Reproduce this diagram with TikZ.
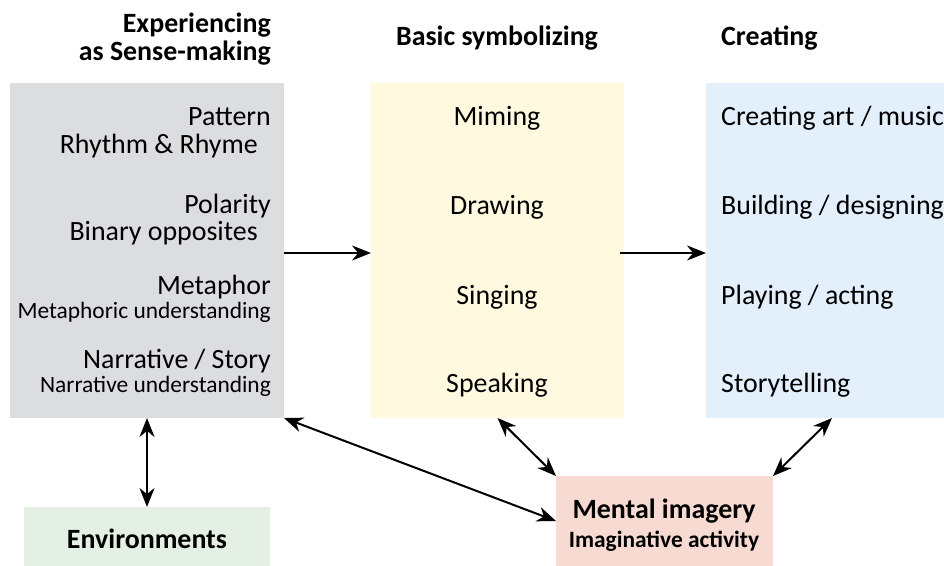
\documentclass[tikz,border=0pt]{standalone}
\usepackage{fontspec}
\setmainfont{Carlito}
\usetikzlibrary{arrows.meta,positioning}
\definecolor{sensegray}{HTML}{DCDDDF}
\definecolor{symbyellow}{HTML}{FFF9DF}
\definecolor{createblue}{HTML}{E3F0FB}
\definecolor{envgreen}{HTML}{E5F0E4}
\definecolor{imagepink}{HTML}{F7DBD2}

\begin{document}
\begin{tikzpicture}[
  x=1bp, y=-1bp,
  panel/.style={inner sep=0pt, outer sep=0pt},
  head/.style={font=\fontsize{28}{32}\selectfont\bfseries, anchor=base, inner sep=0pt},
  big/.style={font=\fontsize{28}{32}\selectfont, anchor=base, inner sep=0pt},
  small/.style={font=\fontsize{23.5}{27}\selectfont, anchor=base, inner sep=0pt},
  link/.style={line width=2bp, -{Stealth[length=19bp,width=15bp]}},
  both/.style={line width=2bp, {Stealth[length=19bp,width=15bp]}-{Stealth[length=19bp,width=15bp]}}
]
\useasboundingbox (0,0) rectangle (944,566);

% panels
\node[panel, fill=sensegray, minimum width=274bp, minimum height=335bp] (sense) at (147,250.5) {};
\node[panel, fill=symbyellow, minimum width=253bp, minimum height=335bp] (symb) at (497.5,250.5) {};
\node[panel, fill=createblue, minimum width=238bp, minimum height=335bp] (create) at (825,250.5) {};
\node[panel, fill=envgreen, minimum width=246bp, minimum height=59bp] (env) at (147,536.5) {};
\node[panel, fill=imagepink, minimum width=217bp, minimum height=90bp] (imagery) at (664.5,521) {};

% headings
\node[head, anchor=base east] (h1a) at (271,33) {Experiencing};
\node[head, anchor=base east] (h1b) at (271,61) {as Sense-making};
\node[head] (h2) at (497,46) {Basic symbolizing};
\node[head, anchor=base west] (h3) at (721,46) {Creating};

% sense-making rows
\foreach \i/\ya/\a/\yb/\b/\xb/\st in {
  1/126/Pattern/154/{Rhythm \& Rhyme}/258/big,
  2/214/Polarity/241/{Binary opposites}/258/big,
  3/294/Metaphor/318/{Metaphoric understanding}/271/small,
  4/368/{Narrative / Story}/392/{Narrative understanding}/271/small%
} {
  \node[big, anchor=base east] (sa\i) at (271,\ya) {\a};
  \node[\st, anchor=base east] (sb\i) at (\xb,\yb) {\b};
}

% symbolizing rows
\foreach \i/\y/\t in {1/126/Miming, 2/215/Drawing, 3/304/Singing, 4/392/Speaking} {
  \node[big] (m\i) at (497,\y) {\t};
}

% creating rows
\foreach \i/\y/\t in {1/126/{Creating art / music}, 2/215/{Building / designing}, 3/304/{Playing / acting}, 4/392/Storytelling} {
  \node[big, anchor=base west] (c\i) at (721,\y) {\t};
}

\node[head] (envtxt) at (147,548) {Environments};
\node[head] (imgtxt) at (664,518) {Mental imagery};
\node[small, font=\fontsize{23.5}{27}\selectfont\bfseries] (acttxt) at (664,547) {Imaginative activity};

% arrows
\draw[link] ([yshift=-2.5bp]sense.east) -- ([yshift=-2.5bp]symb.west);
\draw[link] ([yshift=-2.5bp,xshift=-4bp]symb.east) -- ([yshift=-2.5bp]create.west);
\draw[both] (sense.south) -- (env.north);
\draw[both] (sense.south east) -- (imagery.west);
\draw[both] (symb.south) -- (imagery.north west);
\draw[both] ([xshift=7bp]create.south) -- (imagery.north east);
\end{tikzpicture}
\end{document}
